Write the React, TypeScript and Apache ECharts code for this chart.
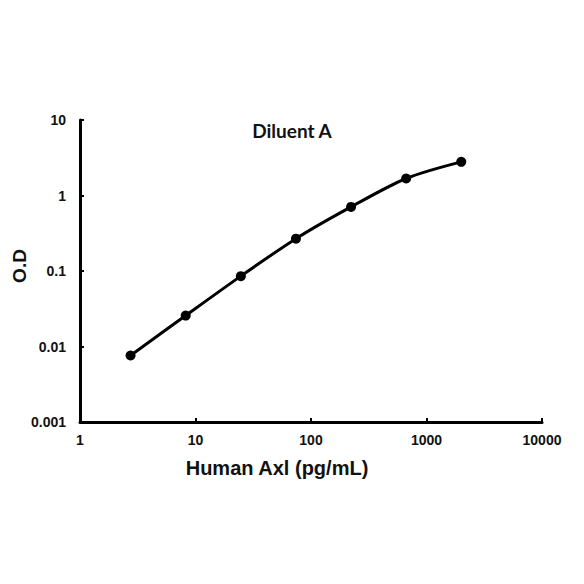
import React, { useEffect, useRef } from "react";
import * as echarts from "echarts";

const concentrations = [2.74, 8.23, 24.69, 74.07, 222.2, 666.7, 2000];
const odValues = [0.0076, 0.0257, 0.0855, 0.268, 0.706, 1.68, 2.79];
const titleText = "Diluent A";
const xName = "Human Axl (pg/mL)";
const yName = "O.D";

const fmt = (v: number) => String(+Number(v).toPrecision(6));

export default function App() {
  const ref = useRef<HTMLDivElement>(null);
  useEffect(() => {
    if (!ref.current) return;
    const chart = echarts.init(ref.current, null, { renderer: "svg" });
    const font = "Liberation Sans, Arial, sans-serif";
    chart.setOption({
      animation: false,
      backgroundColor: "#ffffff",
      graphic: [
        {
          type: "text",
          x: 292,
          y: 130,
          style: {
            text: titleText,
            fontFamily: "Lato, sans-serif",
            fontWeight: "bold",
            fontSize: 19,
            fill: "#111",
            textAlign: "center",
            textVerticalAlign: "middle",
          },
        },
        {
          type: "text",
          x: 277,
          y: 468,
          style: {
            text: xName,
            fontFamily: font,
            fontWeight: "bold",
            fontSize: 20,
            fill: "#111",
            textAlign: "center",
            textVerticalAlign: "middle",
          },
        },
        {
          type: "text",
          x: 19,
          y: 266,
          rotation: Math.PI / 2,
          style: {
            text: yName,
            fontFamily: font,
            fontWeight: "bold",
            fontSize: 19,
            fill: "#111",
            textAlign: "center",
            textVerticalAlign: "middle",
          },
        },
      ],
      grid: { left: 80, right: 42, top: 120, bottom: 162, containLabel: false },
      xAxis: {
        type: "log",
        logBase: 10,
        min: 1,
        max: 10000,
        axisLine: { show: true, onZero: false, lineStyle: { color: "#000", width: 3 } },
        axisTick: { show: true, inside: true, length: 4, lineStyle: { color: "#000", width: 2 } },
        axisLabel: {
          formatter: fmt,
          fontFamily: font,
          fontWeight: "bold",
          fontSize: 14,
          color: "#111",
          margin: 11,
        },
        splitLine: { show: false },
      },
      yAxis: {
        type: "log",
        logBase: 10,
        min: 0.001,
        max: 10,
        axisLine: { show: true, onZero: false, lineStyle: { color: "#000", width: 3 } },
        axisTick: { show: true, inside: true, length: 4, lineStyle: { color: "#000", width: 2 } },
        axisLabel: {
          formatter: fmt,
          fontFamily: font,
          fontWeight: "bold",
          fontSize: 14,
          color: "#111",
          margin: 14,
        },
        splitLine: { show: false },
      },
      series: [
        {
          type: "line",
          data: concentrations.map((c, i) => [c, odValues[i]]),
          smooth: 0.3,
          symbol: "circle",
          symbolSize: 10,
          lineStyle: { color: "#000", width: 3 },
          itemStyle: { color: "#000" },
        },
      ],
    });
    return () => chart.dispose();
  }, []);
  return <div ref={ref} style={{ width: 584, height: 584, margin: -8 }} />;
}
